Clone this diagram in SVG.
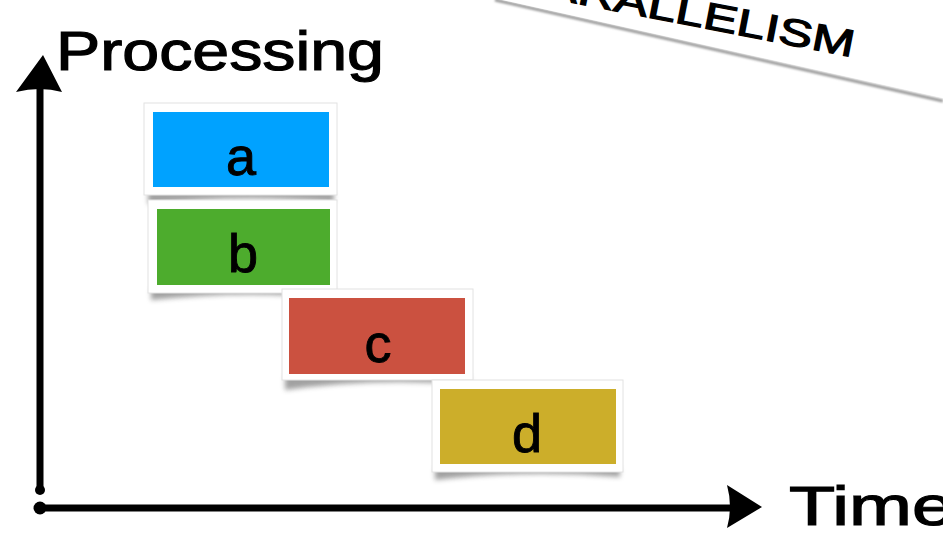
<svg xmlns="http://www.w3.org/2000/svg" width="943" height="540" viewBox="0 0 943 540">
<defs>
<filter id="blur" x="-20%" y="-50%" width="140%" height="200%"><feGaussianBlur stdDeviation="2.5"/></filter>
<filter id="blur1" x="-10%" y="-50%" width="120%" height="200%"><feGaussianBlur stdDeviation="1.2"/></filter>
<style>
.hand{font-family:"Liberation Sans","DejaVu Sans",sans-serif;fill:#000;stroke:#000;stroke-width:1.2}
.lbl{font-family:"Liberation Sans",Arial,sans-serif;font-size:54px;fill:#000;stroke:#000;stroke-width:0.9;text-anchor:middle}
.card{fill:#fff;stroke:#e2e2e2;stroke-width:1}
.shadow{fill:#555;opacity:0.55;filter:url(#blur)}
.axis{stroke:#000;stroke-width:7;stroke-linecap:round;fill:none}
</style>
</defs>
<rect width="943" height="540" fill="#fff"/>

<g id="banner">
<path d="M495,0 L943,101" stroke="#999" stroke-width="3" filter="url(#blur1)" fill="none"/>
<polygon points="480,-20 943,-20 943,98 493,-2" fill="#fff"/>
<text class="hand" x="852" y="57" font-size="38" text-anchor="end" textLength="345" lengthAdjust="spacingAndGlyphs" transform="rotate(11 852 57)">PARALLELISM</text>
</g>

<g id="processing-label">
<text class="hand" x="56" y="70" font-size="56" textLength="328" lengthAdjust="spacingAndGlyphs">Processing</text>
</g>
<g id="time-label">
<text class="hand" x="789" y="525" font-size="56" textLength="165" lengthAdjust="spacingAndGlyphs">Time</text>
</g>

<g id="connectors">
<line class="axis" x1="40" y1="490" x2="40" y2="80"/>
<circle cx="40" cy="490" r="5"/>
<path d="M43,55 L62,92 Q40,86 16,92 Z" fill="#000"/>
<line class="axis" x1="40" y1="508" x2="735" y2="508" stroke-width="8"/>
<circle cx="40" cy="508" r="6.5"/>
<path d="M762,507 L727,485 Q733,507 727,528 Z" fill="#000"/>
</g>

<g id="node-a">
<path class="shadow" d="M148,192 L334,192 L334,202 Q240,194 148,204 Z"/>
<rect class="card" x="144" y="103" width="193" height="92"/>
<rect x="153" y="112" width="176" height="75" fill="#00A2FF"/>
<text class="lbl" x="241" y="175">a</text>
</g>

<g id="node-b">
<path class="shadow" d="M151,288 L334,288 L334,298 Q240,290 151,300 Z"/>
<rect class="card" x="148" y="200" width="189" height="93"/>
<rect x="157" y="209" width="173" height="76" fill="#4DAC2D"/>
<text class="lbl" x="243" y="272">b</text>
</g>

<g id="node-c">
<path class="shadow" d="M285,375 L470,375 L470,385 Q378,377 285,390 Z"/>
<rect class="card" x="282" y="289" width="191" height="91"/>
<rect x="289" y="298" width="176" height="76" fill="#CB5140"/>
<text class="lbl" x="378" y="362">c</text>
</g>

<g id="node-d">
<path class="shadow" d="M435,467 L620,467 L620,477 Q528,469 435,480 Z"/>
<rect class="card" x="432" y="380" width="191" height="92"/>
<rect x="440" y="389" width="176" height="75" fill="#CCAE2A"/>
<text class="lbl" x="527" y="452">d</text>
</g>
</svg>
